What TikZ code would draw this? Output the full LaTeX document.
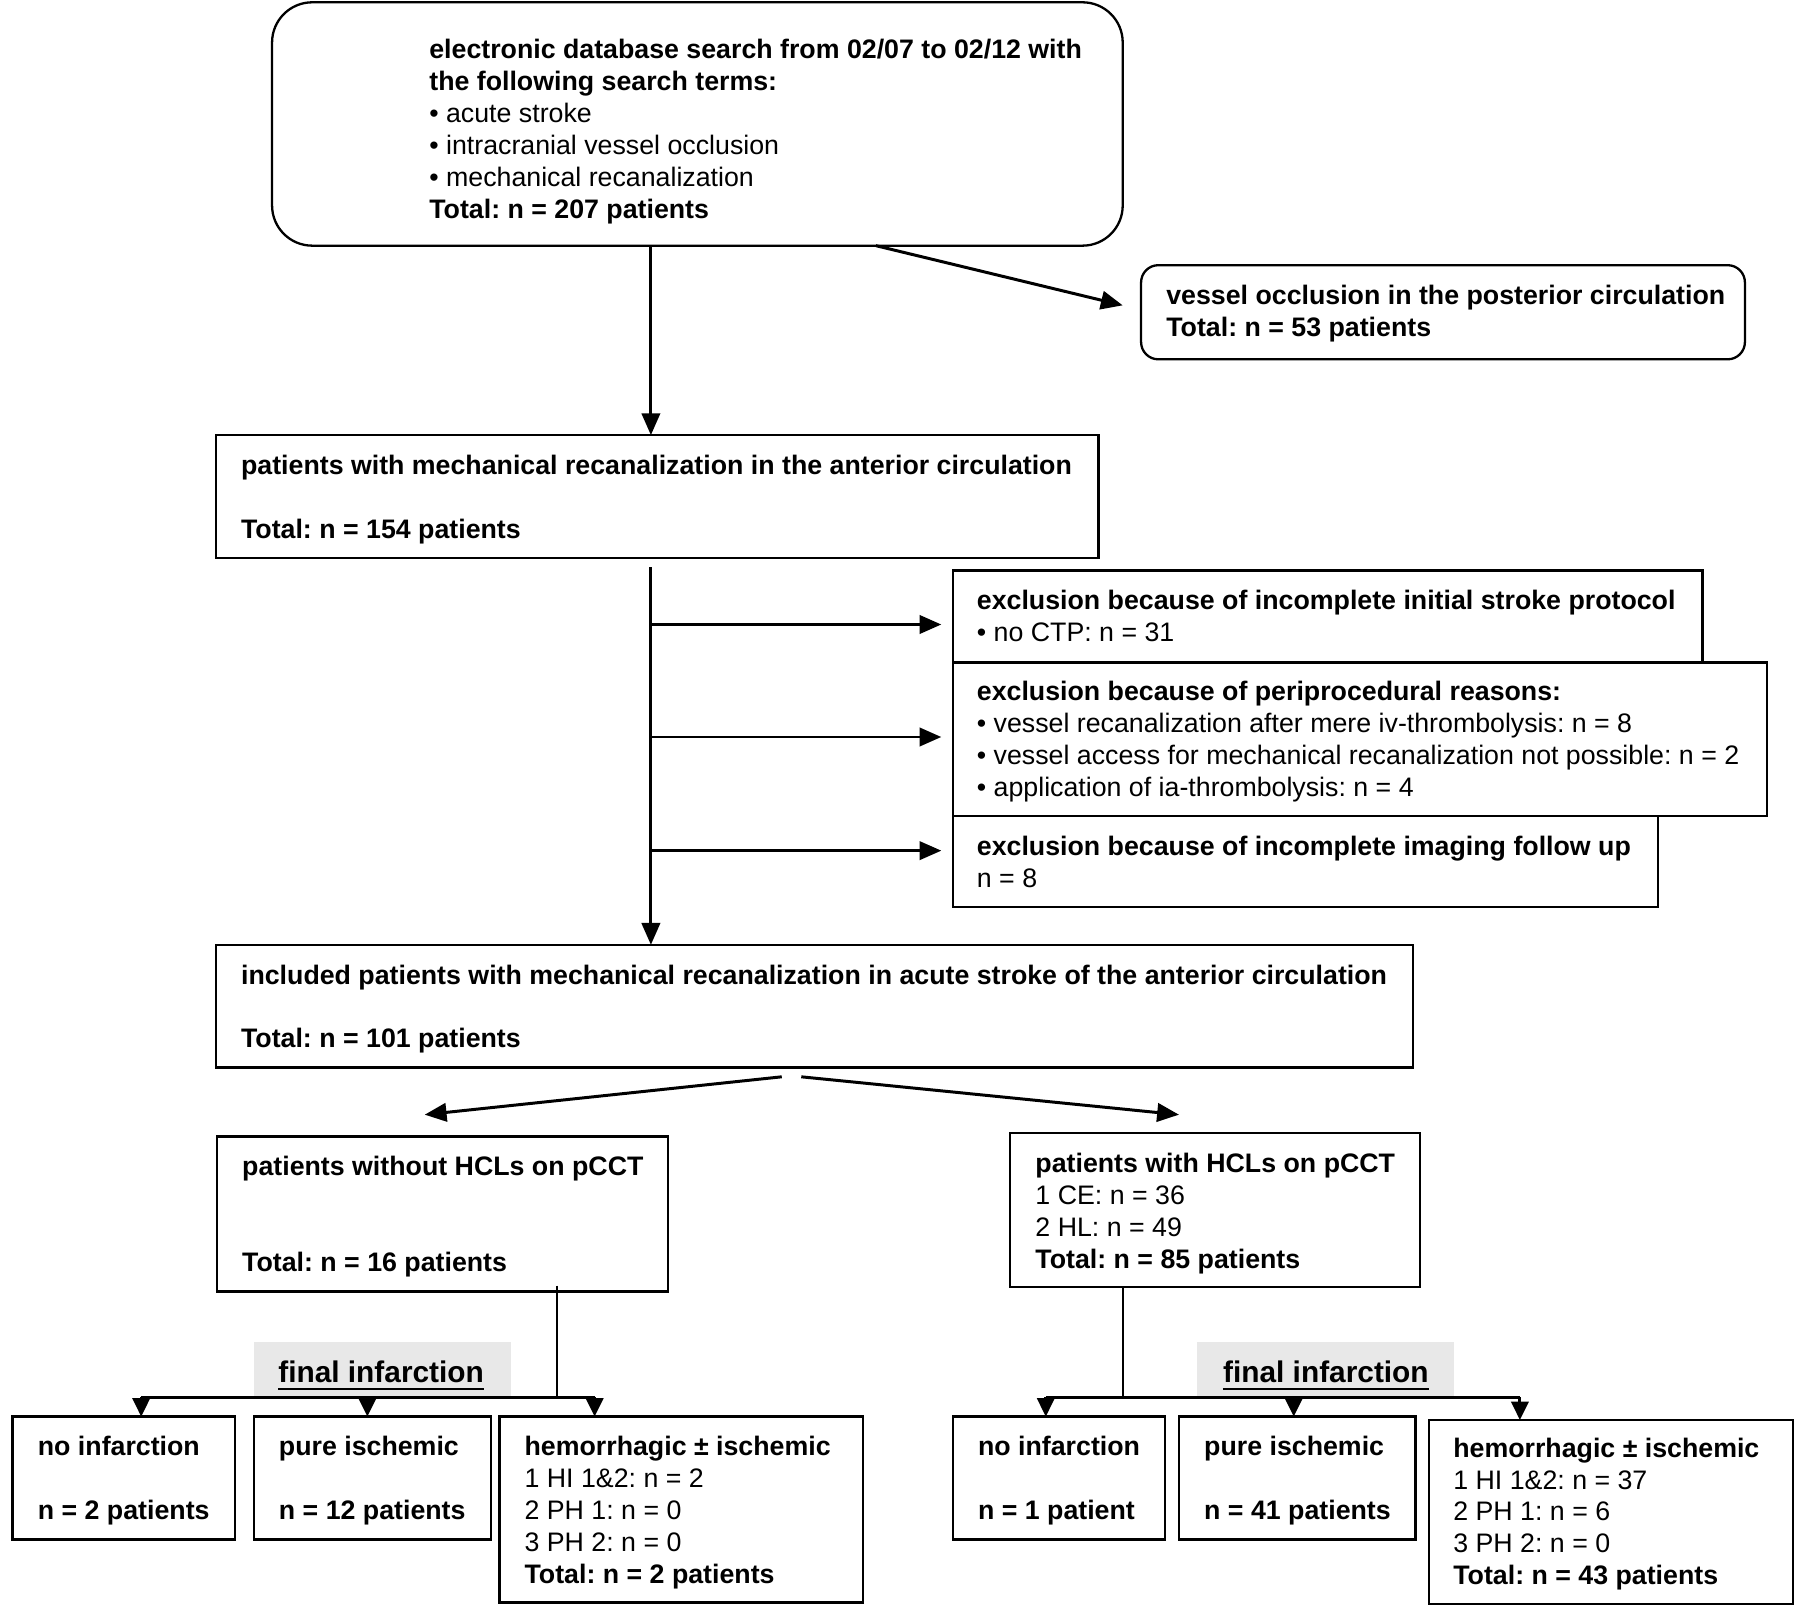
\documentclass[tikz,border=0pt]{standalone}
\usepackage{fontspec}
\setmainfont{Liberation Sans}
\usetikzlibrary{arrows.meta,calc}
\newcommand\fs{\fontsize{23.3}{27.8}\selectfont}
\newcommand\fsb{\fontsize{26}{30}\selectfont}
\newcommand\st{\rule{0pt}{20pt}}
\frenchspacing
\begin{document}
\begin{tikzpicture}[x=1pt,y=-1pt,
 box/.style={draw, line width=2pt, inner sep=0pt, outer sep=0pt, anchor=north west},
 txt/.style={anchor=north west, inner sep=0pt, outer sep=0pt, align=left, font=\fs},
 arr/.style={line width=2.6pt, -{Triangle[length=19pt,width=16pt]}},
 sarr/.style={line width=2.6pt, -{Triangle[length=16pt,width=15pt]}},
 ln/.style={line width=2.6pt},
 thinln/.style={line width=1.4pt},
 gbox/.style={fill=black!9, draw=none, inner sep=0pt, outer sep=0pt, anchor=north west}]
\useasboundingbox[fill=white] (0,0) rectangle (1568,1403);

% ---- boxes ----
\node[box, rounded corners=35pt, minimum width=741pt, minimum height=212pt] (top) at (237,2) {};
\node[box, rounded corners=15pt, minimum width=526pt, minimum height=82pt] (post) at (994,231) {};
\node[box, minimum width=769pt, minimum height=107pt] (ant) at (188,379) {};
\node[box, minimum width=653pt, minimum height=80pt] (exa) at (830,497) {};
\node[box, minimum width=709pt, minimum height=134pt] (exb) at (830,577) {};
\node[box, minimum width=614pt, minimum height=79pt] (exc) at (830,711) {};
\node[box, minimum width=1043pt, minimum height=107pt] (incl) at (188,823) {};
\node[box, minimum width=393pt, minimum height=135pt] (noh) at (189,990) {};
\node[box, minimum width=357pt, minimum height=134pt] (withh) at (880,987) {};
\node[box, minimum width=194pt, minimum height=107pt] (la) at (11,1234) {};
\node[box, minimum width=207pt, minimum height=107pt] (lb) at (221,1234) {};
\node[box, minimum width=317pt, minimum height=162pt] (lc) at (435,1234) {};
\node[box, minimum width=185pt, minimum height=107pt] (ra) at (830,1234) {};
\node[box, minimum width=206pt, minimum height=107pt] (rb) at (1027,1234) {};
\node[box, minimum width=317pt, minimum height=160pt] (rc) at (1245,1237) {};

% ---- gray label backgrounds ----
\node[gbox, minimum width=224pt, minimum height=48pt] (gl) at (221,1169) {};
\node[gbox, minimum width=224pt, minimum height=48pt] (gr) at (1043,1169) {};

% ---- texts ----
\node[txt] (ttop) at (374,31.3) {\textbf{\st electronic database search from 02/07 to 02/12 with}\\
 \textbf{the following search terms:}\\
 • acute stroke\\
 • intracranial vessel occlusion\\
 • mechanical recanalization\\
 \textbf{Total: n = 207 patients}};
\node[txt] (tpost) at (1016,245.3) {\textbf{\st vessel occlusion in the posterior circulation}\\
 \textbf{Total: n = 53 patients}};
\node[txt] (tant) at (210,393.3) {\textbf{\st patients with mechanical recanalization in the anterior circulation}\\[27.8pt]
 \textbf{Total: n = 154 patients}};
\node[txt] (texa) at (851,511.3) {\textbf{\st exclusion because of incomplete initial stroke protocol}\\
 • no CTP: n = 31};
\node[txt] (texb) at (851,590.3) {\textbf{\st exclusion because of periprocedural reasons:}\\
 • vessel recanalization after mere iv-thrombolysis: n = 8\\
 • vessel access for mechanical recanalization not possible: n = 2\\
 • application of ia-thrombolysis: n = 4};
\node[txt] (texc) at (851,725.3) {\textbf{\st exclusion because of incomplete imaging follow up}\\
 n = 8};
\node[txt] (tincl) at (210,837.3) {\textbf{\st included patients with mechanical recanalization in acute stroke of the anterior circulation}\\[27.8pt]
 \textbf{Total: n = 101 patients}};
\node[txt] (tnoh) at (211,1004.3) {\textbf{\st patients without HCLs on pCCT}\\[55.6pt]
 \textbf{Total: n = 16 patients}};
\node[txt] (twithh) at (902,1001.3) {\textbf{\st patients with HCLs on pCCT}\\
 1 CE: n = 36\\
 2 HL: n = 49\\
 \textbf{Total: n = 85 patients}};
\node[txt] (tla) at (33,1248.3) {\textbf{\st no infarction}\\[27.8pt] \textbf{n = 2 patients}};
\node[txt] (tlb) at (243,1248.3) {\textbf{\st pure ischemic}\\[27.8pt] \textbf{n = 12 patients}};
\node[txt] (tlc) at (457,1248.3) {\textbf{\st hemorrhagic ± ischemic}\\
 1 HI 1\&2: n = 2\\
 2 PH 1: n = 0\\
 3 PH 2: n = 0\\
 \textbf{Total: n = 2 patients}};
\node[txt] (tra) at (852,1248.3) {\textbf{\st no infarction}\\[27.8pt] \textbf{n = 1 patient}};
\node[txt] (trb) at (1049,1248.3) {\textbf{\st pure ischemic}\\[27.8pt] \textbf{n = 41 patients}};
\node[txt] (trc) at (1266,1249.3) {\textbf{\st hemorrhagic ± ischemic}\\
 1 HI 1\&2: n = 37\\
 2 PH 1: n = 6\\
 3 PH 2: n = 0\\
 \textbf{Total: n = 43 patients}};

\node[font=\fsb\bfseries, inner sep=0pt, anchor=base] (fil) at (332,1204.5) {final infarction};
\node[font=\fsb\bfseries, inner sep=0pt, anchor=base] (fir) at (1155,1204.5) {final infarction};
\draw[line width=2.2pt] ($(fil.base west)+(0,5.5)$) -- ($(fil.base east)+(0,5.5)$);
\draw[line width=2.2pt] ($(fir.base west)+(0,5.5)$) -- ($(fir.base east)+(0,5.5)$);

% ---- coordinates ----
\coordinate (a1) at (567,0);
\coordinate (a2x) at (763,0);
\coordinate (a2e) at (978,266);
\coordinate (v3) at (567,494);
\coordinate (h1) at (567,544);
\coordinate (h2) at (567,642);
\coordinate (h3) at (567,741);
\coordinate (d1) at (681,938);
\coordinate (d2) at (698,938);
\coordinate (e1) at (370,971);
\coordinate (e2) at (1027,971);
\coordinate (lv) at (485,1120);
\coordinate (lj) at (485,1217);
\coordinate (lh1) at (123,1217);
\coordinate (lh2) at (320,1217);
\coordinate (lh3) at (518,1217);
\coordinate (rv) at (978,1121);
\coordinate (rj) at (978,1217);
\coordinate (rh1) at (911,1217);
\coordinate (rh2) at (1127,1217);
\coordinate (rh3) at (1324,1217);

% ---- connectors ----
\draw[arr] (a1 |- top.south) -- (a1 |- ant.north);
\draw[arr] (a2x |- top.south) -- (a2e);
\draw[arr] (v3) -- (v3 |- incl.north);
\draw[arr] (h1) -- ([xshift=-10pt]h1 -| exa.west);
\draw[arr] (h2) -- ([xshift=-10pt]h2 -| exb.west);
\draw[arr] (h3) -- ([xshift=-10pt]h3 -| exc.west);
\draw[arr] (d1) -- (e1);
\draw[arr] (d2) -- (e2);

\draw[thinln] (lv) -- (lj);
\draw[ln] (lh1) -- (lh3);
\draw[sarr] (lh1) -- (lh1 |- la.north);
\draw[sarr] (lh2) -- (lh2 |- lb.north);
\draw[sarr] (lh3) -- (lh3 |- lc.north);

\draw[thinln] (rv) -- (rj);
\draw[ln] (rh1) -- (rh3);
\draw[sarr] (rh1) -- (rh1 |- ra.north);
\draw[sarr] (rh2) -- (rh2 |- rb.north);
\draw[sarr] (rh3) -- (rh3 |- rc.north);
\end{tikzpicture}
\end{document}
